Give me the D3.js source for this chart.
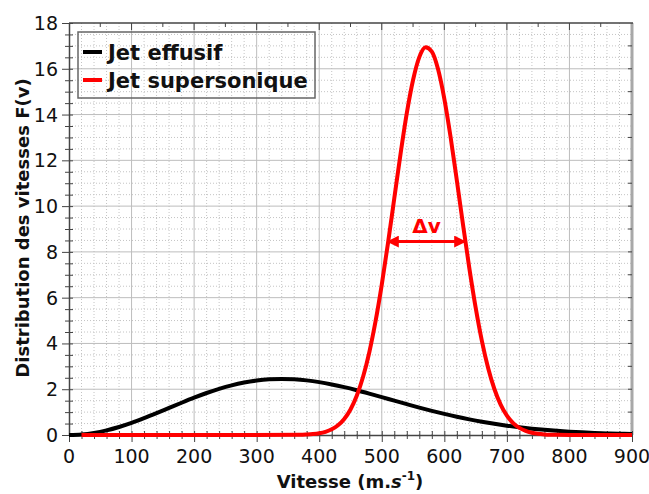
<!DOCTYPE html>
<html>
<head>
	<meta charset="utf-8">
	<script src="https://d3js.org/d3.v7.min.js"></script>
	<style>
		body {
			margin: 0;
			background-color: white;
			font-family: 'DejaVu Sans', sans-serif;
		}
		text {
			fill: #111;
		}
		.tickLabel {
			font-size: 19px;
		}
		.axisTitle {
			font-size: 18px;
			font-weight: bold;
		}
		.legendText {
			font-size: 21px;
			font-weight: bold;
		}
	</style>
</head>
<body>
	<div id="chart"></div>
	<script>
		// speeds (m/s) and distributions
		var vEffusif = [0, 20, 40, 60, 80, 100, 120, 140, 160, 180, 200, 220, 240, 260, 280, 300, 320, 340, 360, 380,
			400, 420, 440, 460, 480, 500, 520, 540, 560, 580, 600, 620, 640, 660, 680, 700, 720, 740, 760, 780,
			800, 820, 840, 860, 880, 900];
		var fEffusif = [0, 0.023, 0.091, 0.201, 0.349, 0.528, 0.733, 0.953, 1.182, 1.410, 1.630, 1.835, 2.016, 2.170, 2.292, 2.380, 2.433, 2.450, 2.433, 2.386,
			2.310, 2.209, 2.090, 1.955, 1.809, 1.657, 1.502, 1.349, 1.199, 1.056, 0.921, 0.796, 0.683, 0.580, 0.488, 0.407, 0.337, 0.276, 0.225, 0.182,
			0.145, 0.115, 0.091, 0.071, 0.055, 0.042];

		var vSuper = [20, 200, 370, 380, 390, 400, 410, 420, 430, 440, 450, 460, 470, 480, 490, 500, 510, 520, 530, 540,
			550, 560, 570, 580, 590, 600, 610, 620, 630, 640, 650, 660, 670, 680, 690, 700, 710, 720, 730, 740,
			750, 760, 770, 780, 800, 900];
		var fSuper = [0, 0, 0.008, 0.020, 0.040, 0.076, 0.140, 0.248, 0.425, 0.701, 1.116, 1.712, 2.531, 3.607, 4.960, 6.572, 8.395, 10.34, 12.28, 14.06,
			15.51, 16.51, 16.94, 16.75, 15.98, 14.69, 13.02, 11.12, 9.165, 7.280, 5.575, 4.115, 2.929, 2.010, 1.330, 0.848, 0.522, 0.309, 0.177, 0.097,
			0.052, 0.027, 0.013, 0.006, 0, 0];

		var xTicks = [0, 100, 200, 300, 400, 500, 600, 700, 800, 900];
		var yTicks = [0, 2, 4, 6, 8, 10, 12, 14, 16, 18];
		var seriesNames = ["Jet effusif", "Jet supersonique"];
		var seriesColors = ["#000000", "#ff0000"];
		var deltaV = [510, 633, 8.45];   // half-max width of the supersonic jet

		var width = 649, height = 494;
		var plot = { left: 69, right: 632, top: 23, bottom: 435 };

		var svg = d3.select("#chart")
			.append("svg")
			.attr("width", width)
			.attr("height", height);

		var x = d3.scaleLinear().domain([0, 900]).range([plot.left, plot.right]);
		var y = d3.scaleLinear().domain([0, 18]).range([plot.bottom, plot.top]);

		// minor grid (dotted)
		svg.append("g").selectAll("line")
			.data(d3.range(0, 901, 20).filter(function (d) { return d % 100 != 0; }))
			.enter().append("line")
			.attr("x1", function (d) { return x(d); })
			.attr("x2", function (d) { return x(d); })
			.attr("y1", plot.top).attr("y2", plot.bottom)
			.style("stroke", "#c4c4c4")
			.style("stroke-dasharray", "1,2");
		svg.append("g").selectAll("line")
			.data(d3.range(0, 18.01, 0.5).filter(function (d) { return d % 2 != 0; }))
			.enter().append("line")
			.attr("y1", function (d) { return y(d); })
			.attr("y2", function (d) { return y(d); })
			.attr("x1", plot.left).attr("x2", plot.right)
			.style("stroke", "#c4c4c4")
			.style("stroke-dasharray", "1,2");

		// major grid
		svg.append("g").selectAll("line")
			.data(xTicks.slice(1, -1))
			.enter().append("line")
			.attr("x1", function (d) { return x(d); })
			.attr("x2", function (d) { return x(d); })
			.attr("y1", plot.top).attr("y2", plot.bottom)
			.style("stroke", "#bdbdbd");
		svg.append("g").selectAll("line")
			.data(yTicks.slice(1, -1))
			.enter().append("line")
			.attr("y1", function (d) { return y(d); })
			.attr("y2", function (d) { return y(d); })
			.attr("x1", plot.left).attr("x2", plot.right)
			.style("stroke", "#bdbdbd");

		// frame
		svg.append("line").attr("x1", plot.right).attr("x2", plot.right)
			.attr("y1", plot.top).attr("y2", plot.bottom)
			.style("stroke", "#a8a8a8").style("stroke-width", 3);
		svg.append("line").attr("x1", plot.left).attr("x2", plot.right + 1)
			.attr("y1", plot.top).attr("y2", plot.top)
			.style("stroke", "#444").style("stroke-width", 1.5);

		// top ticks (inward)
		svg.append("g").selectAll("line")
			.data(d3.range(50, 900, 50))
			.enter().append("line")
			.attr("x1", function (d) { return x(d); })
			.attr("x2", function (d) { return x(d); })
			.attr("y1", plot.top)
			.attr("y2", function (d) { return plot.top + (d % 100 == 0 ? 7 : 4); })
			.style("stroke", "#444");
		// right ticks (inward)
		svg.append("g").selectAll("line")
			.data(d3.range(1, 18, 1))
			.enter().append("line")
			.attr("y1", function (d) { return y(d); })
			.attr("y2", function (d) { return y(d); })
			.attr("x1", plot.right - 4).attr("x2", plot.right)
			.style("stroke", "#444");

		// bottom axis
		var xAxis = svg.append("g")
			.attr("transform", "translate(0," + plot.bottom + ")")
			.call(d3.axisBottom(x).tickValues(d3.range(0, 901, 20)).tickSize(0).tickFormat(""));
		xAxis.select(".domain").style("stroke", "#444").style("stroke-width", 1.5);
		xAxis.selectAll(".tick line").remove();
		xAxis.selectAll(".tick").append("line")
			.attr("y1", -4)
			.attr("y2", function (d) { return d % 100 == 0 ? 7 : 4; })
			.style("stroke", "#444");
		svg.append("g").selectAll("text")
			.data(xTicks)
			.enter().append("text")
			.attr("class", "tickLabel")
			.attr("x", function (d) { return x(d); })
			.attr("y", plot.bottom + 28)
			.style("text-anchor", "middle")
			.text(function (d) { return d; });

		// left axis
		var yAxis = svg.append("g")
			.attr("transform", "translate(" + plot.left + ",0)")
			.call(d3.axisLeft(y).tickValues(d3.range(0, 18.01, 0.5)).tickSize(0).tickFormat(""));
		yAxis.select(".domain").style("stroke", "#444").style("stroke-width", 1.5);
		yAxis.selectAll(".tick line").remove();
		yAxis.selectAll(".tick").append("line")
			.attr("x1", function (d) { return d % 2 == 0 ? -7 : -4; })
			.attr("x2", 4)
			.style("stroke", "#444");
		svg.append("g").selectAll("text")
			.data(yTicks)
			.enter().append("text")
			.attr("class", "tickLabel")
			.attr("x", plot.left - 11)
			.attr("y", function (d) { return y(d) + 7; })
			.style("text-anchor", "end")
			.text(function (d) { return d; });

		// curves
		var line = d3.line()
			.x(function (d) { return x(d[0]); })
			.y(function (d) { return y(d[1]); })
			.curve(d3.curveMonotoneX);

		svg.append("path")
			.datum(d3.zip(vEffusif, fEffusif))
			.attr("d", line)
			.style("fill", "none")
			.style("stroke", seriesColors[0])
			.style("stroke-width", 4);

		svg.append("path")
			.datum(d3.zip(vSuper, fSuper))
			.attr("d", line)
			.style("fill", "none")
			.style("stroke", seriesColors[1])
			.style("stroke-width", 4);

		// delta v annotation
		var defs = svg.append("defs");
		defs.append("marker")
			.attr("id", "arrow")
			.attr("viewBox", "0 0 10 10")
			.attr("refX", 9).attr("refY", 5)
			.attr("markerWidth", 4).attr("markerHeight", 4)
			.attr("orient", "auto-start-reverse")
			.append("path")
			.attr("d", "M0,0 L10,5 L0,10 z")
			.style("fill", "#ff0000");
		svg.append("line")
			.attr("x1", x(deltaV[0])).attr("x2", x(deltaV[1]))
			.attr("y1", y(deltaV[2])).attr("y2", y(deltaV[2]))
			.style("stroke", "#ff0000")
			.style("stroke-width", 3)
			.attr("marker-start", "url(#arrow)")
			.attr("marker-end", "url(#arrow)");
		svg.append("text")
			.attr("x", x((deltaV[0] + deltaV[1]) / 2))
			.attr("y", y(deltaV[2]) - 9)
			.style("text-anchor", "middle")
			.style("font-size", "20px")
			.style("font-weight", "bold")
			.style("fill", "#ff0000")
			.text("Δv");

		// legend
		svg.append("rect")
			.attr("x", 78).attr("y", 32)
			.attr("width", 237).attr("height", 66)
			.style("fill", "none")
			.style("stroke", "#666")
			.style("stroke-width", 1.5);
		var legend = svg.selectAll(".legend")
			.data(seriesNames)
			.enter().append("g")
			.attr("class", "legend")
			.attr("transform", function (d, i) { return "translate(83," + (52 + i * 28) + ")"; });
		legend.append("line")
			.attr("x1", 0).attr("x2", 19)
			.style("stroke", function (d, i) { return seriesColors[i]; })
			.style("stroke-width", 4);
		legend.append("text")
			.attr("class", "legendText")
			.attr("x", 25)
			.attr("y", 8)
			.text(function (d) { return d; });

		// axis titles
		var xt = svg.append("text")
			.attr("class", "axisTitle")
			.attr("x", 350)
			.attr("y", 488)
			.style("text-anchor", "middle");
		xt.append("tspan").text("Vitesse (m.");
		xt.append("tspan").style("font-style", "italic").text("s");
		xt.append("tspan").attr("dy", -8).style("font-size", "12px").text("-1");
		xt.append("tspan").attr("dy", 8).text(")");

		svg.append("text")
			.attr("class", "axisTitle")
			.attr("transform", "translate(29,228) rotate(-90)")
			.style("text-anchor", "middle")
			.text("Distribution des vitesses F(v)");
	</script>
</body>
</html>
